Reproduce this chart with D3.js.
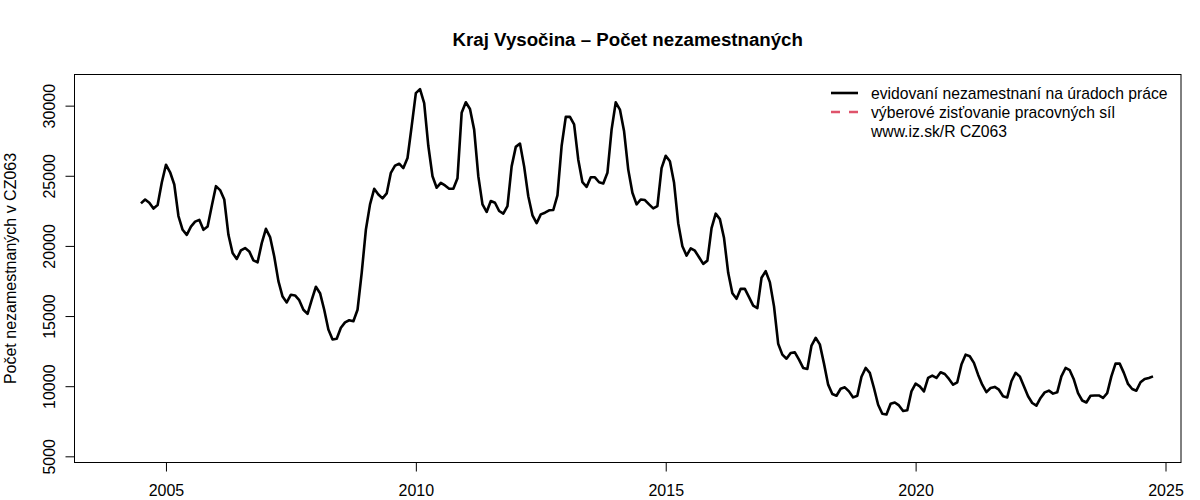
<!DOCTYPE html>
<html>
<head>
<meta charset="utf-8">
<script src="https://cdn.jsdelivr.net/npm/d3@7"></script>
<style>
  html, body { margin: 0; padding: 0; background: #fff; }
  svg { display: block; font-family: "Liberation Sans", Arial, Helvetica, sans-serif; }
</style>
</head>
<body>
<svg id="chart" width="1200" height="500"></svg>
<script>
// ---- data (monthly, July 2004 – October 2024) ----
const title = "Kraj Vysočina – Počet nezamestnaných";
const yLabel = "Počet nezamestnaných v CZ063";
const legendLabels = ["evidovaní nezamestnaní na úradoch práce", "výberové zisťovanie pracovných síl", "www.iz.sk/R CZ063"];
const startYear = 2004;
const startMonth = 7; // July
const registered = [
  // 2004 (Jul–Dec)
  23030, 23310, 23080, 22660, 22910, 24520,
  // 2005
  25790, 25250, 24380, 22130, 21150, 20790, 21380, 21730, 21860, 21150, 21380, 22840,
  // 2006
  24260, 23980, 23310, 20790, 19490, 19070, 19680, 19850, 19610, 18970, 18830, 20200,
  // 2007
  21220, 20630, 19250, 17490, 16390, 15970, 16520, 16470, 16130, 15450, 15150, 16160,
  // 2008
  17090, 16630, 15450, 14040, 13330, 13380, 14160, 14550, 14700, 14630, 15450, 18080,
  // 2009
  21150, 22960, 24070, 23670, 23390, 23740, 25210, 25720, 25860, 25550, 26270, 28535,
  // 2010
  30890, 31180, 30180, 27120, 24970, 24150, 24500, 24310, 24070, 24070, 24830, 29490,
  // 2011
  30240, 29760, 28290, 24970, 22960, 22420, 23200, 23080, 22490, 22300, 22840, 25670,
  // 2012
  27060, 27300, 25670, 23540, 22180, 21620, 22250, 22370, 22540, 22560, 23600, 27120,
  // 2013
  29200, 29200, 28660, 26150, 24540, 24210, 24890, 24890, 24540, 24450, 25210, 28290,
  // 2014
  30240, 29720, 28170, 25440, 23790, 22960, 23310, 23270, 22960, 22680, 22840, 25550,
  // 2015
  26430, 26030, 24500, 21620, 19970, 19310, 19830, 19660, 19190, 18720, 18950, 21270,
  // 2016
  22300, 21910, 20560, 18080, 16630, 16230, 16940, 16940, 16350, 15740, 15570, 17730,
  // 2017
  18200, 17420, 15690, 13030, 12250, 11960, 12370, 12410, 11890, 11300, 11230, 12900,
  // 2018
  13450, 12980, 11610, 10110, 9440, 9320, 9820, 9920, 9630, 9200, 9320, 10670,
  // 2019
  11300, 10950, 9870, 8680, 8030, 7980, 8750, 8840, 8630, 8230, 8280, 9630,
  // 2020
  10180, 9990, 9630, 10590, 10750, 10590, 10990, 10870, 10520, 10110, 10280, 11540,
  // 2021
  12250, 12130, 11660, 10820, 10110, 9580, 9870, 9950, 9750, 9280, 9200, 10350,
  // 2022
  10950, 10700, 9990, 9280, 8800, 8610, 9160, 9560, 9680, 9470, 9560, 10700,
  // 2023
  11300, 11140, 10470, 9510, 8980, 8840, 9320, 9340, 9340, 9160, 9510, 10700,
  // 2024 (Jan–Oct)
  11610, 11610, 10950, 10160, 9800, 9680, 10280, 10520, 10590, 10700
];
const xTicks = [2005, 2010, 2015, 2020, 2025];
const yTicks = [5000, 10000, 15000, 20000, 25000, 30000];

// ---- layout ----
const svg = d3.select("#chart");
const plot = { left: 74.5, right: 1181, top: 74.5, bottom: 462.5 };

const x = d3.scaleLinear().domain([2003.17, 2025.31]).range([plot.left, plot.right]);
const y = d3.scaleLinear().domain([4560, 32220]).range([plot.bottom, plot.top]);

const series = registered.map((v, i) => ({ t: startYear + (startMonth - 1 + i) / 12, v }));

// title
svg.append("text")
  .attr("x", (plot.left + plot.right) / 2)
  .attr("y", 46)
  .attr("text-anchor", "middle")
  .style("font-weight", "bold")
  .style("font-size", "18.7px")
  .text(title);

// y label
svg.append("text")
  .attr("transform", `translate(16,${(plot.top + plot.bottom) / 2}) rotate(-90)`)
  .attr("text-anchor", "middle")
  .style("font-size", "16px")
  .text(yLabel);

// axes
const xAxis = d3.axisBottom(x).tickValues(xTicks).tickSize(9).tickPadding(0).tickFormat(d3.format("d"));
const gx = svg.append("g").attr("transform", `translate(0,${plot.bottom})`).call(xAxis);
gx.select(".domain").remove();
gx.selectAll(".tick line").attr("stroke", "#000");
gx.selectAll(".tick text")
  .attr("y", 33.5).attr("dy", null)
  .attr("fill", "#000")
  .style("font-size", "16px")
  .style("font-family", "'Liberation Sans', Arial, sans-serif");

const yAxis = d3.axisLeft(y).tickValues(yTicks).tickSize(9).tickFormat(d3.format("d"));
const gy = svg.append("g").attr("transform", `translate(${plot.left},0)`).call(yAxis);
gy.select(".domain").remove();
gy.selectAll(".tick line").attr("stroke", "#000");
gy.selectAll(".tick text")
  .attr("x", null).attr("dy", null).attr("y", null)
  .attr("text-anchor", "middle")
  .attr("transform", "translate(-19.5,0) rotate(-90)")
  .attr("fill", "#000")
  .style("font-size", "16px")
  .style("font-family", "'Liberation Sans', Arial, sans-serif");

// box
svg.append("rect")
  .attr("x", plot.left).attr("y", plot.top)
  .attr("width", plot.right - plot.left).attr("height", plot.bottom - plot.top)
  .attr("fill", "none").attr("stroke", "#000").attr("stroke-width", 1);

// line
const line = d3.line().x(d => x(d.t)).y(d => y(d.v));
svg.append("path")
  .datum(series)
  .attr("d", line)
  .attr("fill", "none")
  .attr("stroke", "#000")
  .attr("stroke-width", 2.6)
  .attr("stroke-linejoin", "round");

// legend
const legend = svg.append("g");
const legendY = [93, 112, 131];
legend.append("line").attr("x1", 831).attr("x2", 858).attr("y1", legendY[0]).attr("y2", legendY[0])
  .attr("stroke", "#000").attr("stroke-width", 2.6);
legend.append("line").attr("x1", 831).attr("x2", 858).attr("y1", legendY[1]).attr("y2", legendY[1])
  .attr("stroke", "#DF536B").attr("stroke-width", 2.6).attr("stroke-dasharray", "9,9");
legendLabels.forEach((t, i) => {
  legend.append("text")
    .attr("x", 871).attr("y", legendY[i])
    .attr("dy", "0.36em")
    .style("font-size", "15.7px")
    .text(t);
});
</script>
</body>
</html>
